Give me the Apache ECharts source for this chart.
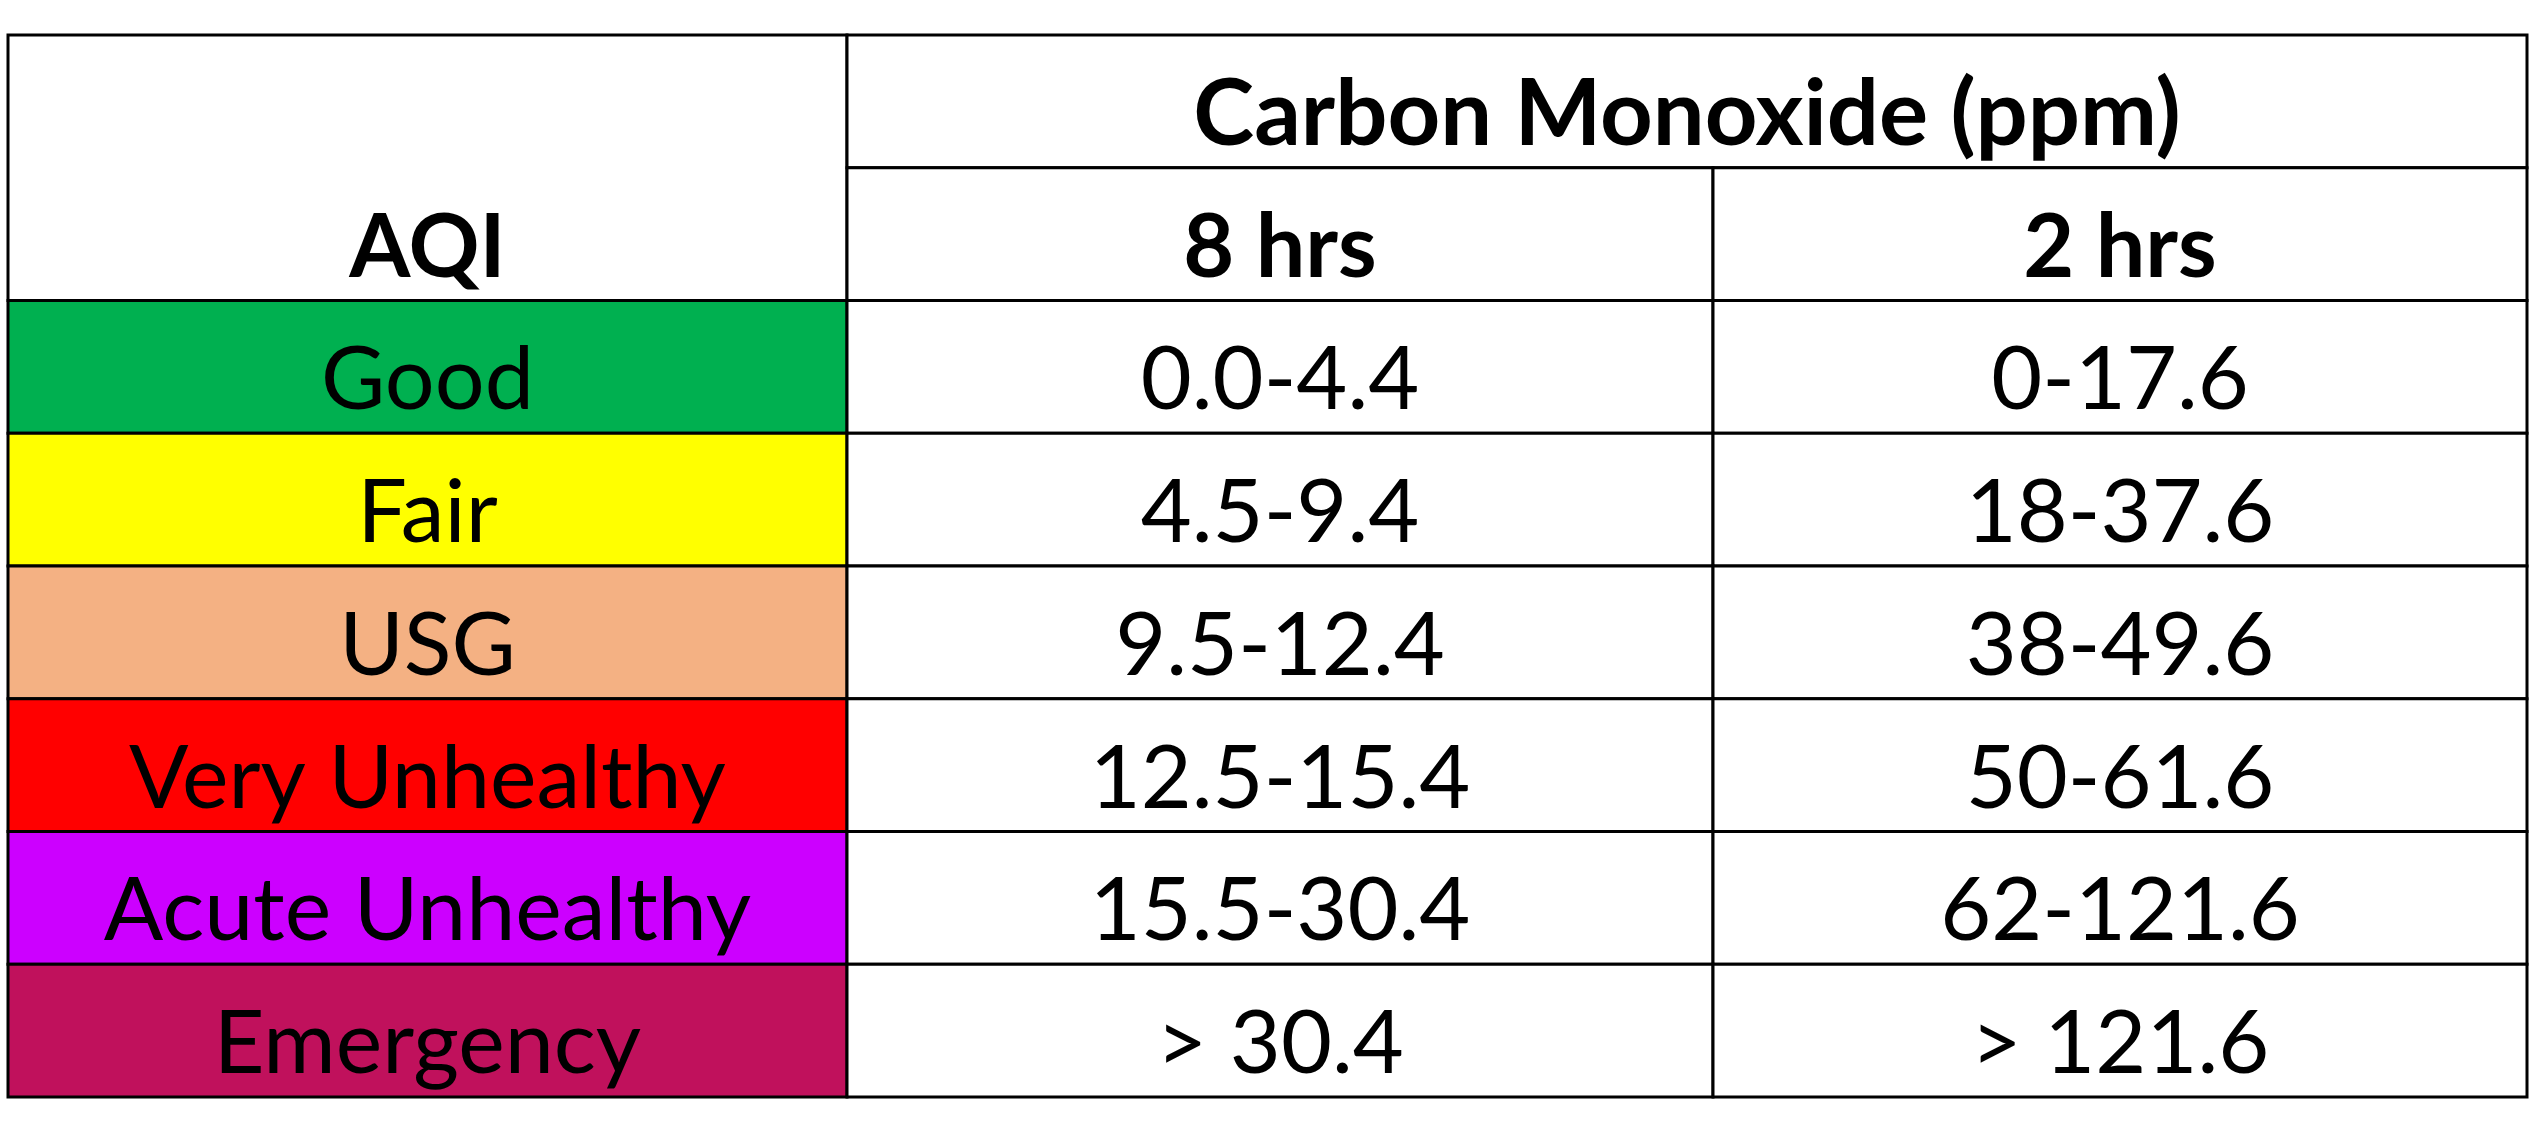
<!DOCTYPE html>
<html>
<head>
<meta charset="utf-8">
<title>Carbon Monoxide AQI</title>
<script src="https://cdn.jsdelivr.net/npm/echarts@6/dist/echarts.min.js"></script>
<style>
    html, body { margin: 0; padding: 0; background: #fff; }
    #main { width: 2537px; height: 1131px; }
</style>
</head>
<body>
<div id="main"></div>
<script>
// table content
var groupTitle = 'Carbon Monoxide (ppm)';
var colHeaders = ['AQI', '8 hrs', '2 hrs'];
var levels = ['Good', 'Fair', 'USG', 'Very Unhealthy', 'Acute Unhealthy', 'Emergency'];
var hrs8 = ['0.0-4.4', '4.5-9.4', '9.5-12.4', '12.5-15.4', '15.5-30.4', '> 30.4'];
var hrs2 = ['0-17.6', '18-37.6', '38-49.6', '50-61.6', '62-121.6', '> 121.6'];

// look
var levelFill = ['#00B050', '#FFFF00', '#F4B183', '#FF0000', '#CC00FF', '#C0115C'];
var colWidths = [839, 866, 814];
var headRows = 2;
var textShift = 14;
var fontSize = 88;

var colEdges = [0];
colWidths.forEach(function (w, i) {
    colEdges.push(colEdges[i] + w);
});
var totalRows = headRows + levels.length;

/**
 * one cell: [x0, x1, y0, y1, textY]
 */
function cell(c0, c1, r0, r1, textRow, text, fill, bold, size) {
    return {
        value: [colEdges[c0], colEdges[c1], r0, r1, textRow],
        text: text,
        fill: fill,
        bold: bold,
        size: size || fontSize
    };
}

var cells = [];
cells.push(cell(0, 1, 0, 2, 1.5, colHeaders[0], '#fff', true));
cells.push(cell(1, 3, 0, 1, 0.5, groupTitle, '#fff', true, 92));
cells.push(cell(1, 2, 1, 2, 1.5, colHeaders[1], '#fff', true));
cells.push(cell(2, 3, 1, 2, 1.5, colHeaders[2], '#fff', true));
levels.forEach(function (name, i) {
    var r = headRows + i;
    cells.push(cell(0, 1, r, r + 1, r + 0.5, name, levelFill[i], false));
    cells.push(cell(1, 2, r, r + 1, r + 0.5, hrs8[i], '#fff', false));
    cells.push(cell(2, 3, r, r + 1, r + 0.5, hrs2[i], '#fff', false));
});

function renderCell(params, api) {
    var item = cells[params.dataIndex];
    var p0 = api.coord([api.value(0), api.value(2)]);
    var p1 = api.coord([api.value(1), api.value(3)]);
    var tc = api.coord([(api.value(0) + api.value(1)) / 2, api.value(4)]);
    return {
        type: 'group',
        children: [{
            type: 'rect',
            shape: { x: p0[0], y: p0[1], width: p1[0] - p0[0], height: p1[1] - p0[1] },
            style: { fill: item.fill, stroke: '#000', lineWidth: 3 }
        }, {
            type: 'text',
            z2: 10,
            style: {
                text: item.text,
                x: tc[0],
                y: tc[1] + textShift,
                align: 'center',
                verticalAlign: 'middle',
                fill: '#000',
                font: (item.bold ? 'bold ' : '') + item.size + 'px Lato'
            }
        }]
    };
}

var chart = echarts.init(document.getElementById('main'));
chart.setOption({
    animation: false,
    grid: { left: 8, right: 10, top: 35, bottom: 34 },
    xAxis: { type: 'value', min: 0, max: colEdges[colEdges.length - 1], show: false },
    yAxis: { type: 'value', min: 0, max: totalRows, inverse: true, show: false },
    series: [{
        type: 'custom',
        renderItem: renderCell,
        encode: { x: [0, 1], y: [2, 3] },
        data: cells
    }]
});
</script>
</body>
</html>
